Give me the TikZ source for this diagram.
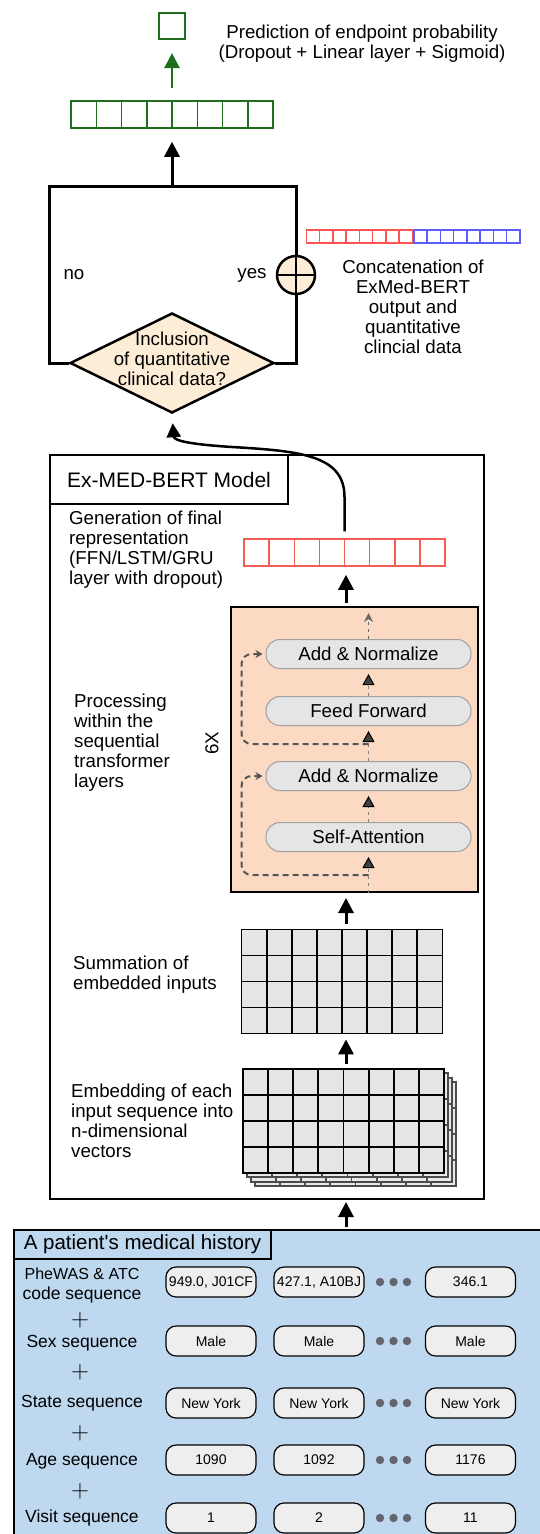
\documentclass[tikz,border=0pt]{standalone}
\usepackage{fontspec}
\setmainfont{Liberation Sans}
\usetikzlibrary{arrows.meta,shapes.geometric,calc}
\definecolor{predgreen}{RGB}{30,110,30}
\definecolor{repred}{RGB}{244,92,86}
\definecolor{catred}{RGB}{255,84,84}
\definecolor{catblue}{RGB}{92,92,255}
\definecolor{decfill}{RGB}{253,237,215}
\definecolor{tfmfill}{RGB}{252,217,194}
\definecolor{pillfill}{RGB}{229,229,229}
\definecolor{pillline}{RGB}{160,160,160}
\definecolor{tokfill}{RGB}{238,238,238}
\definecolor{histfill}{RGB}{190,216,240}
\definecolor{residgray}{RGB}{85,85,85}
\definecolor{dotgray}{RGB}{100,100,110}
\def\ppbb{path picture bounding box}
\tikzset{
  lbl/.style={align=left, inner sep=0pt},
  % vector of 8 cells
  vec/.style={draw, line width=1.5pt, inner sep=0pt, path picture={
      \foreach \k in {1,...,7}
        \draw[line width=1.5pt] ($(\ppbb.south west)!{\k/8}!(\ppbb.south east)$)
          -- ($(\ppbb.north west)!{\k/8}!(\ppbb.north east)$);}},
  % 8x4 embedding matrix
  cellgrid/.style={draw, fill=pillfill, line width=1.8pt, inner sep=0pt,
    minimum width=201pt, minimum height=104pt, path picture={
      \foreach \k in {1,...,7}
        \draw[line width=1.8pt] ($(\ppbb.south west)!{\k/8}!(\ppbb.south east)$)
          -- ($(\ppbb.north west)!{\k/8}!(\ppbb.north east)$);
      \foreach \k in {1,2,3}
        \draw[line width=1.8pt] ($(\ppbb.south west)!{\k/4}!(\ppbb.north west)$)
          -- ($(\ppbb.south east)!{\k/4}!(\ppbb.north east)$);}},
  flow/.style={line width=3pt, -{Triangle[width=15pt,length=15pt]}},
  pill/.style={draw=pillline, line width=1pt, fill=pillfill, rounded corners=14pt,
    minimum width=205pt, minimum height=29pt, inner sep=0pt},
  skip/.style={draw=gray, line width=1pt, dash pattern=on 3pt off 4pt},
  subtip/.style={-{Triangle[width=12pt,length=11pt,color=black,fill=darkgray]}, shorten >=5pt},
  resid/.style={draw=residgray, line width=2pt, dash pattern=on 6pt off 4pt,
    rounded corners=10pt, -{Stealth[width=8pt,length=7pt]}, shorten >=3pt},
  tok/.style={draw, line width=1.2pt, fill=tokfill, rounded corners=10pt,
    minimum width=90pt, minimum height=30pt, inner sep=0pt, font=\fontsize{14}{16}\selectfont},
  rowlbl/.style={align=center, inner sep=0pt, font=\fontsize{17.5}{19.5}\selectfont}
}
\begin{document}
\begin{tikzpicture}[x=1pt, y=-1pt, font=\fontsize{18.7}{20}\selectfont]
\useasboundingbox (0,0) rectangle (540,1534);
\clip (0,0) rectangle (540,1534);
\coordinate (ax) at (346,0);

% prediction head
\node[draw=predgreen, line width=2.2pt, minimum size=26pt, inner sep=0pt] (prob) at (172,26) {};
\node[vec, color=predgreen, minimum width=202pt, minimum height=27pt] (predvec) at (172,114.5) {};
\draw[flow, predgreen, line width=2.5pt, shorten <=12pt, shorten >=13pt] (predvec.north) -- (prob.south);
\node[align=center, inner sep=0pt] (predtxt) at (362,44) {Prediction of endpoint probability\\(Dropout + Linear layer + Sigmoid)};

% decision and concatenation
\node[diamond, draw, fill=decfill, line width=2.5pt, minimum width=204pt, minimum height=100pt, inner sep=0pt] (dec) at (172,363) {};
\node[align=center, inner sep=0pt] (dectxt) at (172,359) {Inclusion\\of quantitative\\clinical data?};
\node[circle, draw, fill=decfill, line width=2.5pt, minimum size=38pt, inner sep=0pt] (concat) at (296,275) {};
\coordinate (tl) at (49,186);
\coordinate (tr) at (296,186);
\coordinate (tm) at (172,186);
\draw[line width=3pt] (dec.west) -| (tl) -- (tr) -- (concat.north);
\draw[line width=3pt] (dec.east) -| (concat.south);
\draw[line width=2.5pt] (concat.north) -- (concat.south) (concat.west) -- (concat.east);
\draw[flow, shorten >=13pt] (tm) -- (predvec.south);
\node[lbl] (no) at (74,275) {no};
\node[lbl] (yes) at (252,275) {yes};
\node[vec, color=catred, minimum width=106pt, minimum height=13pt, anchor=east] (catr) at (413,236.5) {};
\node[vec, color=catblue, minimum width=106pt, minimum height=13pt, anchor=west] (catb) at (413,236.5) {};
\node[align=center, inner sep=0pt] (cattxt) at (413,307) {Concatenation of\\ExMed-BERT\\output and\\quantitative\\clincial data};

% model frame
\node[draw, line width=2pt, minimum width=434pt, minimum height=744pt, inner sep=0pt, anchor=north west] (model) at (49,454) {};
\node[draw, line width=2pt, minimum width=238pt, minimum height=49pt, inner sep=0pt, anchor=north west,
  font=\fontsize{21}{24}\selectfont] (modeltitle) at (model.north west) {Ex-MED-BERT Model};

% final representation
\node[vec, color=repred, minimum width=201pt, minimum height=27pt] (repvec) at (344.5,552.5) {};
\node[lbl, anchor=west] (reptxt) at (69,550) {Generation of final\\representation\\(FFN/LSTM/GRU\\layer with dropout)};
\draw[line width=2.5pt, -{Triangle[width=14pt,length=14pt]}, shorten <=7pt, shorten >=9pt]
  (repvec.north) -- (344.5,497) .. controls (344.5,455) and (300,451) .. (232,447)
  .. controls (185,444) and (174,440) .. (dec.south);

% transformer block
\node[draw, fill=tfmfill, line width=2pt, minimum width=247pt, minimum height=285pt, inner sep=0pt] (tfm) at (354.5,749.5) {};
\node[pill] (an2) at (368.5,654) {Add \& Normalize};
\node[pill] (ff) at (368.5,711) {Feed Forward};
\node[pill] (an1) at (368.5,776) {Add \& Normalize};
\node[pill] (sa) at (368.5,837) {Self-Attention};
\coordinate (tin) at (sa.south |- tfm.south);
\coordinate (tout) at (368.5,613);
\draw[skip, subtip] (tin) -- (sa.south);
\draw[skip, subtip] (sa.north) -- (an1.south);
\draw[skip, subtip] (an1.north) -- (ff.south);
\draw[skip, subtip] (ff.north) -- (an2.south);
\draw[skip, draw=gray!80!black, -{Stealth[width=9pt,length=9pt]}] (an2.north) -- (tout);
\coordinate (r1) at (368.5,875);
\coordinate (r2) at (368.5,744);
\draw[resid] (r1) -| ([xshift=-24pt]an1.west) -- (an1.west);
\draw[resid] (r2) -| ([xshift=-24pt]an2.west) -- (an2.west);
\node[lbl, rotate=90] (rep6) at (212,743) {6X};
\node[lbl, anchor=west] (proctxt) at (74,743) {Processing\\within the\\sequential\\transformer\\layers};
\draw[flow, shorten <=3pt, shorten >=8pt] (tfm.north -| ax) -- (repvec.south -| ax);

% embeddings
\node[cellgrid] (sum) at (342,981.5) {};
\node[lbl, anchor=west] (sumtxt) at (73,975) {Summation of\\embedded inputs};
\foreach \d in {3,2,1}
  \node[cellgrid, color=black!70, fill=pillfill!85] (emb\d) at ($(343.5,1121)+(\d*4,\d*4.3)$) {};
\node[cellgrid] (emb) at (343.5,1121) {};
\node[lbl, anchor=west] (embtxt) at (71,1121) {Embedding of each\\input sequence into\\n-dimensional\\vectors};
\draw[flow, shorten <=5pt, shorten >=5pt] (sum.north -| ax) -- (tfm.south -| ax);
\draw[flow, shorten <=4pt, shorten >=5pt] (emb.north -| ax) -- (sum.south -| ax);

% patient history
\node[draw, fill=histfill, line width=1.8pt, minimum width=560pt, minimum height=330pt, inner sep=0pt, anchor=north west] (hist) at (13,1229) {};
\node[draw, line width=2pt, minimum width=257pt, minimum height=29pt, inner sep=0pt, anchor=north west,
  font=\fontsize{20.5}{24}\selectfont] (histtitle) at (hist.north west) {A patient\textquotesingle s medical history};
\draw[flow, shorten <=2pt, shorten >=2pt] (hist.north -| ax) -- (model.south -| ax);
\foreach \y/\ly/\lab/\a/\b/\c [count=\n] in {
  1282/1285.5/{\fontsize{16}{19}\selectfont PheWAS \& ATC\\code sequence}/{949.0, J01CF}/{427.1, A10BJ}/{346.1},
  1341/1343/{Sex sequence}/Male/Male/Male,
  1403/1403/{State sequence}/{New York}/{New York}/{New York},
  1460/1461/{Age sequence}/1090/1092/1176,
  1518/1518/{Visit sequence}/1/2/11}
{
  \node[rowlbl] (lab\n) at (82,\ly) {\lab};
  \node[tok] (tok\n-1) at (211,\y) {\a};
  \node[tok] (tok\n-2) at (319,\y) {\b};
  \node[tok] (tok\n-3) at (470.5,\y) {\c};
  \foreach \dx in {380,393.5,407}
    \fill[dotgray] (\dx,\y) circle (4.2pt);
}
\foreach \y [count=\n] in {1320,1372,1433,1491}
  \node[inner sep=0pt, font=\fontsize{26}{26}\selectfont] (add\n) at (80,\y) {$+$};
\end{tikzpicture}
\end{document}
